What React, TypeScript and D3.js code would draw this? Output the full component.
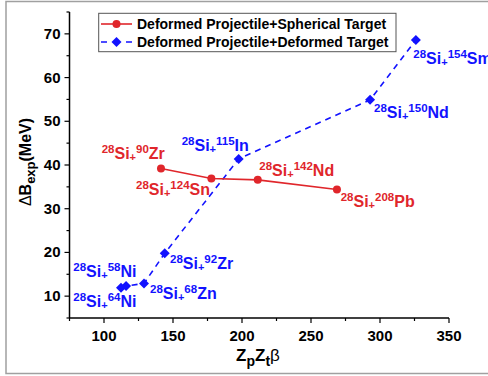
import React, { useEffect, useRef } from "react";
import * as d3 from "d3";

// red series: deformed projectile + spherical target
const sphLabels = ["90|Zr", "124|Sn", "142|Nd", "208|Pb"];
const sphX = [141.3, 177.8, 211.4, 268.8];
const sphY = [39.2, 36.9, 36.6, 34.4];

// blue series: deformed projectile + deformed target
const defLabels = ["64|Ni", "58|Ni", "68|Zn", "92|Zr", "115|In", "150|Nd", "154|Sm"];
const defX = [112.3, 116, 129, 144, 197.6, 292.8, 326];
const defY = [11.9, 12.3, 12.9, 19.8, 41.4, 54.9, 68.6];

const xTicks = [100, 150, 200, 250, 300, 350];
const yTicks = [10, 20, 30, 40, 50, 60, 70];
const legendNames = [
  "Deformed Projectile+Spherical Target",
  "Deformed Projectile+Deformed Target",
];

const RED = "#e0262b";
const BLUE = "#1212ff";

export default function App() {
  const ref = useRef<SVGSVGElement>(null);

  useEffect(() => {
    const svg = d3.select(ref.current);
    svg.selectAll("*").remove();

    const x = d3.scaleLinear().domain([75, 350]).range([69.5, 449]);
    const y = d3.scaleLinear().domain([5, 75]).range([318, 12]);

    // outer frame
    svg
      .append("rect")
      .attr("x", 6)
      .attr("y", 1.5)
      .attr("width", 600)
      .attr("height", 372)
      .attr("fill", "none")
      .attr("stroke", "#a0a0a0")
      .attr("stroke-width", 1.5);

    const font = "Arial, 'Liberation Sans', sans-serif";

    // x axis
    const gx = svg.append("g").attr("transform", "translate(0,318)");
    gx.append("line")
      .attr("x1", 69.5)
      .attr("x2", 449)
      .attr("stroke", "#000")
      .attr("stroke-width", 1.5);
    d3.range(75, 351, 25).forEach((v) => {
      const major = v % 50 === 0;
      gx.append("line")
        .attr("x1", x(v))
        .attr("x2", x(v))
        .attr("y1", 0)
        .attr("y2", major ? 5 : 3)
        .attr("stroke", "#000")
        .attr("stroke-width", 1.2);
    });
    gx.selectAll("text.tick")
      .data(xTicks)
      .enter()
      .append("text")
      .attr("x", (d) => x(d))
      .attr("y", 23)
      .attr("text-anchor", "middle")
      .attr("font-family", font)
      .attr("font-weight", "bold")
      .attr("font-size", 15)
      .text((d) => d);

    // y axis
    const gy = svg.append("g").attr("transform", "translate(69.5,0)");
    gy.append("line")
      .attr("y1", 318)
      .attr("y2", 12)
      .attr("stroke", "#000")
      .attr("stroke-width", 1.5);
    d3.range(5, 76, 5).forEach((v) => {
      const major = v % 10 === 0;
      gy.append("line")
        .attr("x1", 0)
        .attr("x2", major ? -5 : -3)
        .attr("y1", y(v))
        .attr("y2", y(v))
        .attr("stroke", "#000")
        .attr("stroke-width", 1.2);
    });
    gy.selectAll("text.tick")
      .data(yTicks)
      .enter()
      .append("text")
      .attr("x", -9)
      .attr("y", (d) => y(d) + 5)
      .attr("text-anchor", "end")
      .attr("font-family", font)
      .attr("font-weight", "bold")
      .attr("font-size", 15)
      .text((d) => d);

    // axis titles
    const xt = svg
      .append("text")
      .attr("x", 258)
      .attr("y", 361)
      .attr("text-anchor", "middle")
      .attr("font-family", font)
      .attr("font-weight", "bold")
      .attr("font-size", 17);
    xt.append("tspan").text("Z");
    xt.append("tspan").attr("dy", 5).attr("font-size", 14).text("p");
    xt.append("tspan").attr("dy", -5).text("Z");
    xt.append("tspan").attr("dy", 5).attr("font-size", 14).text("t");
    xt.append("tspan").attr("dy", -5).attr("font-weight", "normal").text("β");

    const yt = svg
      .append("text")
      .attr("transform", "translate(31,162) rotate(-90)")
      .attr("text-anchor", "middle")
      .attr("font-family", font)
      .attr("font-weight", "bold")
      .attr("font-size", 16);
    yt.append("tspan").attr("font-weight", "normal").text("Δ");
    yt.append("tspan").text("B");
    yt.append("tspan").attr("dy", 4).attr("font-size", 13).text("exp");
    yt.append("tspan").attr("dy", -4).text("(MeV)");

    // lines
    const sph = sphX.map((v, i) => [v, sphY[i]] as [number, number]);
    const def = defX.map((v, i) => [v, defY[i]] as [number, number]);

    const line = d3
      .line<[number, number]>()
      .x((d) => x(d[0]))
      .y((d) => y(d[1]));

    svg
      .append("path")
      .attr("d", line(def))
      .attr("fill", "none")
      .attr("stroke", BLUE)
      .attr("stroke-width", 1.6)
      .attr("stroke-dasharray", "6,5");

    svg
      .append("path")
      .attr("d", line(sph))
      .attr("fill", "none")
      .attr("stroke", RED)
      .attr("stroke-width", 1.6);

    // diamond = square turned 45 degrees
    const diamond = d3.symbol(d3.symbolSquare, 50);
    svg
      .selectAll("path.dm")
      .data(def)
      .enter()
      .append("path")
      .attr("d", diamond)
      .attr("transform", (d) => `translate(${x(d[0])},${y(d[1])}) rotate(45)`)
      .attr("fill", BLUE);

    svg
      .selectAll("circle.pt")
      .data(sph)
      .enter()
      .append("circle")
      .attr("cx", (d) => x(d[0]))
      .attr("cy", (d) => y(d[1]))
      .attr("r", 4)
      .attr("fill", RED);

    // point labels: [x, baseline]
    const sphPos = [
      [101.7, 159],
      [136, 195],
      [259.3, 175.7],
      [340.7, 207.3],
    ];
    const defPos = [
      [73.3, 306.7],
      [73.3, 276.7],
      [150, 299],
      [170, 269.3],
      [181.7, 151],
      [374, 118.3],
      [413.3, 64],
    ];

    const addLabel = (lab: string, pos: number[], color: string) => {
      const [mass, el] = lab.split("|");
      const t = svg
        .append("text")
        .attr("x", pos[0])
        .attr("y", pos[1])
        .attr("font-family", font)
        .attr("font-weight", "bold")
        .attr("font-size", 16)
        .attr("fill", color);
      t.append("tspan").attr("dy", -6).attr("font-size", 11.5).text("28");
      t.append("tspan").attr("dy", 6).text("Si");
      t.append("tspan").attr("dy", 2).attr("font-size", 11).text("+");
      t.append("tspan").attr("dy", -8).attr("font-size", 11.5).text(mass);
      t.append("tspan").attr("dy", 6).text(el);
    };
    sphLabels.forEach((l, i) => addLabel(l, sphPos[i], RED));
    defLabels.forEach((l, i) => addLabel(l, defPos[i], BLUE));

    // legend
    const lg = svg.append("g");
    lg.append("rect")
      .attr("x", 98.7)
      .attr("y", 13.3)
      .attr("width", 297.3)
      .attr("height", 38.4)
      .attr("fill", "#fff")
      .attr("stroke", "#555")
      .attr("stroke-width", 1);
    const rows = [24, 42];
    lg.append("line")
      .attr("x1", 101)
      .attr("x2", 132)
      .attr("y1", rows[0])
      .attr("y2", rows[0])
      .attr("stroke", RED)
      .attr("stroke-width", 1.6);
    lg.append("circle").attr("cx", 116.5).attr("cy", rows[0]).attr("r", 4).attr("fill", RED);
    lg.append("line")
      .attr("x1", 101)
      .attr("x2", 132)
      .attr("y1", rows[1])
      .attr("y2", rows[1])
      .attr("stroke", BLUE)
      .attr("stroke-width", 1.6)
      .attr("stroke-dasharray", "6,19");
    lg.append("path")
      .attr("d", diamond)
      .attr("transform", `translate(116.5,${rows[1]}) rotate(45)`)
      .attr("fill", BLUE);
    legendNames.forEach((n, i) => {
      lg.append("text")
        .attr("x", 137)
        .attr("y", rows[i] + 5)
        .attr("font-family", font)
        .attr("font-weight", "bold")
        .attr("font-size", 14)
        .text(n);
    });
  }, []);

  return (
    <div style={{ position: "absolute", left: 0, top: 0 }}>
      <svg ref={ref} width={488} height={376} style={{ display: "block", background: "#fff" }} />
    </div>
  );
}
